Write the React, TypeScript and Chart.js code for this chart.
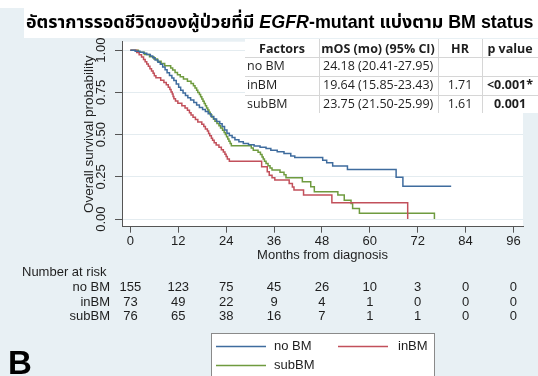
import React, { useEffect, useRef } from "react";
import { Chart, registerables } from "chart.js";
Chart.register(...registerables);

// ---------------- data ----------------
const xTicks = [0, 12, 24, 36, 48, 60, 72, 84, 96];
const yTicks = [0, 0.25, 0.5, 0.75, 1];
const yTickLabels = ["0.00", "0.25", "0.50", "0.75", "1.00"];

const groupNames = ["no BM", "inBM", "subBM"];

const noBMTime = [0, 1.2, 2.4, 3.3, 4.1, 5.0, 5.6, 6.2, 6.9, 7.5, 8.1, 8.7, 9.2, 9.8, 10.4, 10.9, 11.5, 12.1, 12.6, 13.2, 13.8, 14.4, 15.1, 15.9, 16.6, 17.3, 18.1, 18.8, 19.5, 20.2, 20.9, 21.6, 22.4, 23.0, 23.6, 24.2, 24.8, 25.5, 26.2, 27.2, 28.3, 29.6, 31.0, 32.5, 34.0, 35.2, 36.8, 38.5, 40.2, 41.2, 48.2, 49.2, 50.7, 54.4, 66.6, 68.3, 80.4];
const noBMSurv = [1, 0.994, 0.987, 0.981, 0.974, 0.966, 0.955, 0.942, 0.929, 0.916, 0.9, 0.884, 0.866, 0.85, 0.835, 0.82, 0.8, 0.78, 0.762, 0.746, 0.732, 0.718, 0.705, 0.69, 0.675, 0.66, 0.648, 0.637, 0.624, 0.608, 0.592, 0.578, 0.565, 0.548, 0.528, 0.508, 0.495, 0.483, 0.47, 0.458, 0.448, 0.44, 0.432, 0.425, 0.418, 0.408, 0.398, 0.389, 0.373, 0.365, 0.349, 0.333, 0.314, 0.294, 0.247, 0.195, 0.195];

const inBMTime = [0, 1.6, 2.2, 2.8, 3.3, 3.7, 4.1, 4.5, 4.9, 5.3, 5.7, 6.0, 6.4, 7.6, 8.4, 9.0, 9.5, 9.9, 10.2, 10.5, 10.7, 10.9, 11.3, 11.9, 12.9, 13.7, 14.3, 14.8, 15.2, 15.7, 16.3, 16.9, 17.9, 18.4, 18.8, 19.3, 19.6, 19.9, 20.3, 20.6, 21.0, 21.5, 22.2, 22.8, 23.3, 23.7, 24.0, 24.3, 24.8, 32.9, 34.3, 34.8, 35.5, 36.2, 39.8, 40.6, 41.0, 43.4, 50.5, 69.5, 69.5];
const inBMSurv = [1, 0.986, 0.973, 0.959, 0.945, 0.932, 0.918, 0.904, 0.89, 0.877, 0.863, 0.849, 0.836, 0.822, 0.808, 0.795, 0.781, 0.767, 0.753, 0.74, 0.726, 0.712, 0.699, 0.685, 0.671, 0.658, 0.644, 0.63, 0.616, 0.603, 0.589, 0.575, 0.562, 0.548, 0.534, 0.521, 0.507, 0.493, 0.479, 0.466, 0.452, 0.438, 0.425, 0.411, 0.397, 0.384, 0.37, 0.356, 0.342, 0.31, 0.28, 0.26, 0.245, 0.231, 0.211, 0.19, 0.172, 0.142, 0.097, 0.097, 0];

const subBMTime = [0, 2.0, 3.5, 4.8, 5.9, 6.8, 7.7, 8.6, 10.1, 10.6, 11.2, 11.8, 12.5, 13.3, 14.3, 15.2, 15.8, 16.2, 16.6, 16.9, 17.3, 17.6, 17.9, 18.2, 18.5, 18.8, 19.1, 19.4, 19.7, 20.0, 20.4, 20.8, 21.2, 21.7, 22.2, 22.6, 23.1, 23.5, 23.8, 24.1, 24.4, 24.7, 25.0, 25.3, 30.3, 30.8, 32.0, 32.6, 33.0, 33.3, 33.6, 34.0, 34.5, 35.0, 35.5, 37.5, 38.5, 39.0, 43.1, 45.2, 46.1, 52.0, 53.6, 55.3, 55.7, 57.4, 76.2, 76.2];
const subBMSurv = [1, 0.987, 0.974, 0.961, 0.948, 0.934, 0.921, 0.908, 0.895, 0.882, 0.868, 0.855, 0.842, 0.829, 0.816, 0.803, 0.789, 0.776, 0.763, 0.75, 0.737, 0.724, 0.711, 0.697, 0.684, 0.671, 0.658, 0.645, 0.632, 0.618, 0.605, 0.592, 0.579, 0.566, 0.553, 0.539, 0.526, 0.513, 0.5, 0.487, 0.474, 0.461, 0.447, 0.434, 0.421, 0.408, 0.395, 0.382, 0.368, 0.355, 0.342, 0.329, 0.316, 0.303, 0.29, 0.277, 0.263, 0.245, 0.221, 0.191, 0.162, 0.142, 0.112, 0.093, 0.063, 0.034, 0.034, 0];

const riskNoBM = [155, 123, 75, 45, 26, 10, 3, 0, 0];
const riskInBM = [73, 49, 22, 9, 4, 1, 0, 0, 0];
const riskSubBM = [76, 65, 38, 16, 7, 1, 1, 0, 0];

const tableHeader = ["Factors", "mOS (mo) (95% CI)", "HR", "p value"];
const tableFactors = ["no BM", "inBM", "subBM"];
const tableMOS = ["24.18 (20.41-27.95)", "19.64 (15.85-23.43)", "23.75 (21.50-25.99)"];
const tableHR = ["", "1.71", "1.61"];
const tableP = ["", "<0.001*", "0.001"];

const titleThai = "อัตราการรอดชีวิตของผู้ป่วยที่มี ";
const titleItalic = "EGFR";
const titleRest = "-mutant แบ่งตาม BM status";
const xTitle = "Months from diagnosis";
const yTitle = "Overall survival probability";
const riskTitle = "Number at risk";
const panelLetter = "B";

// ---------------- styles ----------------
const W = 538;
const H = 376;
const BG = "#e8f0f4";
const COLORS = ["#3f6c9e", "#c2505b", "#6f9b3f"];
const SANS = '"Liberation Sans", Arial, Helvetica, sans-serif';
const TABLEFONT = '"Open Sans", "Liberation Sans", sans-serif';
const THAIFONT = '"Liberation Sans", Arial, "Noto Sans Thai", Loma, Garuda, "Tlwg Typo", sans-serif';
const TXT = "#1e1e1e";

const decoPlugin = {
  id: "deco",
  beforeDraw(chart: any) {
    const { ctx, chartArea: a } = chart;
    ctx.save();
    ctx.fillStyle = BG;
    ctx.fillRect(0, 0, W, H);
    ctx.fillStyle = "#ffffff";
    ctx.fillRect(0, 0, W, 8);
    ctx.fillRect(24, 8, W - 24, 30);
    ctx.fillRect(a.left, a.top, a.right - a.left, a.bottom - a.top);
    ctx.restore();
  },
  afterDraw(chart: any) {
    const { ctx, chartArea: a } = chart;
    const xs = chart.scales.x;
    const ys = chart.scales.y;
    ctx.save();

    // y tick labels (rotated)
    ctx.fillStyle = TXT;
    ctx.font = `13px ${SANS}`;
    ctx.textAlign = "center";
    ctx.textBaseline = "middle";
    yTicks.forEach((v, i) => {
      const py = ys.getPixelForValue(v);
      ctx.save();
      ctx.translate(101, py);
      ctx.rotate(-Math.PI / 2);
      ctx.fillText(yTickLabels[i], 0, 0);
      ctx.restore();
    });
    // y title
    ctx.save();
    ctx.font = `13.5px ${SANS}`;
    ctx.translate(89, (a.top + a.bottom) / 2);
    ctx.rotate(-Math.PI / 2);
    ctx.fillText(yTitle, 0, 0);
    ctx.restore();

    // x title
    ctx.font = `13px ${SANS}`;
    ctx.fillText(xTitle, (a.left + a.right) / 2, 255);

    // risk table
    ctx.textAlign = "left";
    ctx.fillText(riskTitle, 22, 272);
    const rows = [riskNoBM, riskInBM, riskSubBM];
    const rowY = [287.5, 302, 316.5];
    rows.forEach((r, ri) => {
      ctx.textAlign = "right";
      ctx.fillText(groupNames[ri], 110, rowY[ri]);
      ctx.textAlign = "center";
      r.forEach((n, ci) => {
        ctx.fillText(String(n), xs.getPixelForValue(xTicks[ci]), rowY[ri]);
      });
    });

    // stats table
    const tL = 245, tR = W, tT = 39;
    const rowH = [18, 19, 19, 18];
    const colX = [tL, 319, 438, 482, tR];
    let yy = tT;
    ctx.fillStyle = "#ffffff";
    ctx.fillRect(tL, tT, tR - tL, rowH.reduce((s, v) => s + v, 0));
    ctx.strokeStyle = "#d6d6d6";
    ctx.lineWidth = 1;
    const rowTops: number[] = [];
    rowH.forEach((h) => { rowTops.push(yy); yy += h; });
    for (let i = 1; i < rowTops.length; i++) {
      ctx.beginPath();
      ctx.moveTo(tL, Math.round(rowTops[i]) + 0.5);
      ctx.lineTo(tR, Math.round(rowTops[i]) + 0.5);
      ctx.stroke();
    }
    for (let i = 1; i < 4; i++) {
      ctx.beginPath();
      ctx.moveTo(colX[i] + 0.5, tT);
      ctx.lineTo(colX[i] + 0.5, yy);
      ctx.stroke();
    }
    ctx.fillStyle = TXT;
    ctx.textBaseline = "middle";
    ctx.font = `bold 12.5px ${TABLEFONT}`;
    ctx.textAlign = "center";
    const hy = rowTops[0] + rowH[0] / 2 + 1;
    ctx.fillText(tableHeader[0], 282, hy);
    ctx.fillText(tableHeader[1], 378, hy);
    ctx.fillText(tableHeader[2], 460, hy);
    ctx.fillText(tableHeader[3], 510, hy);
    for (let r = 0; r < 3; r++) {
      const cy = rowTops[r + 1] + rowH[r + 1] / 2;
      ctx.font = `12.5px ${TABLEFONT}`;
      ctx.textAlign = "left";
      ctx.fillText(tableFactors[r], 247, cy);
      ctx.fillText(tableMOS[r], 323, cy);
      ctx.textAlign = "center";
      ctx.fillText(tableHR[r], 460, cy);
      ctx.font = `bold 12.5px ${TABLEFONT}`;
      ctx.fillText(tableP[r], 510, cy);
    }

    // title
    const measure = (size: number) => {
      ctx.font = `bold ${size}px ${THAIFONT}`;
      const w1 = ctx.measureText(titleThai).width;
      ctx.font = `italic bold ${size}px ${THAIFONT}`;
      const w2 = ctx.measureText(titleItalic).width;
      ctx.font = `bold ${size}px ${THAIFONT}`;
      const w3 = ctx.measureText(titleRest).width;
      return [w1, w2, w3];
    };
    let size = 18;
    const m0 = measure(size);
    const total = m0[0] + m0[1] + m0[2];
    size = Math.max(14, Math.min(22, (size * 508) / total));
    const m = measure(size);
    ctx.textAlign = "left";
    ctx.textBaseline = "alphabetic";
    ctx.fillStyle = "#000";
    let tx = 26;
    const base = 28;
    ctx.font = `bold ${size}px ${THAIFONT}`;
    ctx.fillText(titleThai, tx, base);
    tx += m[0];
    ctx.font = `italic bold ${size}px ${THAIFONT}`;
    ctx.fillText(titleItalic, tx, base);
    tx += m[1];
    ctx.font = `bold ${size}px ${THAIFONT}`;
    ctx.fillText(titleRest, tx, base);

    // legend box
    const lx = 211, ly = 333, lw = 223, lh = 50;
    ctx.fillStyle = "#ffffff";
    ctx.fillRect(lx, ly, lw, lh);
    ctx.strokeStyle = "#8a8a8a";
    ctx.lineWidth = 1;
    ctx.strokeRect(lx + 0.5, ly + 0.5, lw, lh);
    const items = [
      { x1: 216, x2: 266, y: 346.5, tx: 274, c: COLORS[0], t: groupNames[0] },
      { x1: 338, x2: 388, y: 346.5, tx: 398, c: COLORS[1], t: groupNames[1] },
      { x1: 216, x2: 266, y: 365.5, tx: 274, c: COLORS[2], t: groupNames[2] },
    ];
    ctx.font = `13px ${SANS}`;
    ctx.textBaseline = "middle";
    items.forEach((it) => {
      ctx.strokeStyle = it.c;
      ctx.lineWidth = 1.5;
      ctx.beginPath();
      ctx.moveTo(it.x1, it.y);
      ctx.lineTo(it.x2, it.y);
      ctx.stroke();
      ctx.fillStyle = TXT;
      ctx.fillText(it.t, it.tx, it.y);
    });

    // panel letter
    ctx.fillStyle = "#000";
    ctx.font = `bold 33px ${SANS}`;
    ctx.textBaseline = "alphabetic";
    ctx.fillText(panelLetter, 8, 374);

    ctx.restore();
  },
};

export default function App() {
  const ref = useRef<HTMLCanvasElement | null>(null);
  useEffect(() => {
    if (!ref.current) return;
    const mk = (t: number[], s: number[]) => t.map((v, i) => ({ x: v, y: s[i] }));
    const chart = new Chart(ref.current, {
      type: "line",
      data: {
        datasets: [
          { label: groupNames[0], data: mk(noBMTime, noBMSurv), borderColor: COLORS[0] },
          { label: groupNames[1], data: mk(inBMTime, inBMSurv), borderColor: COLORS[1] },
          { label: groupNames[2], data: mk(subBMTime, subBMSurv), borderColor: COLORS[2] },
        ].map((d) => ({ ...d, stepped: true, pointRadius: 0, borderWidth: 1.5, fill: false, tension: 0 })) as any,
      },
      options: {
        animation: false,
        responsive: false,
        devicePixelRatio: 1,
        layout: { padding: { top: 41.7, right: 15, left: 0, bottom: 0 } },
        plugins: { legend: { display: false }, tooltip: { enabled: false } },
        scales: {
          x: {
            type: "linear",
            min: -2.1,
            max: 98.4,
            afterBuildTicks: (s: any) => { s.ticks = xTicks.map((v) => ({ value: v })); },
            afterFit: (s: any) => { s.height = H - 226.7; },
            ticks: { autoSkip: false, maxRotation: 0, minRotation: 0, padding: 1, color: TXT, font: { family: SANS, size: 13 } },
            grid: { drawOnChartArea: false, tickLength: 6, tickColor: "#555", color: "#555" },
            border: { color: "#555", width: 1 },
          },
          y: {
            type: "linear",
            min: -0.045,
            max: 1.05,
            afterBuildTicks: (s: any) => { s.ticks = yTicks.map((v) => ({ value: v })); },
            afterFit: (s: any) => { s.width = 122; },
            ticks: { display: false },
            grid: { color: "#e4ecf0", lineWidth: 1, tickLength: 7, tickColor: "#555" },
            border: { color: "#555", width: 1 },
          },
        },
      },
      plugins: [decoPlugin],
    });
    return () => chart.destroy();
  }, []);
  return (
    <div style={{ position: "absolute", left: 0, top: 0, width: W, height: H }}>
      <canvas ref={ref} width={W} height={H} style={{ width: W, height: H, display: "block" }} />
    </div>
  );
}
